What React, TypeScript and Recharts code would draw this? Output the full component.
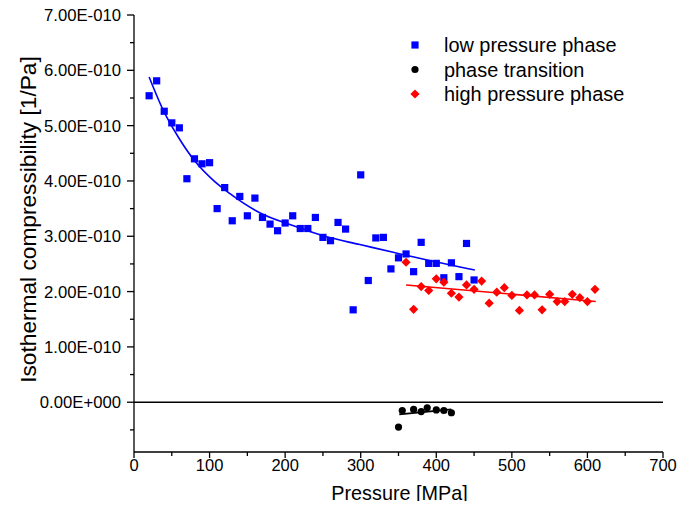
import React from "react";
import {
  ComposedChart,
  Scatter,
  Line,
  XAxis,
  YAxis,
  ReferenceLine,
  Legend,
  Label,
} from "recharts";

// Values of compressibility are in units of 1E-010 1/Pa
const lowPressureP = [20, 30, 40, 50, 60, 70, 80, 90, 100, 110, 120, 130, 140, 150, 160, 170, 180, 190, 200, 210, 220, 230, 240, 250, 260, 270, 280, 290, 300, 310, 320, 330, 340, 350, 360, 370, 380, 390, 400, 410, 420, 430, 440, 450];
const lowPressureK = [5.54, 5.81, 5.26, 5.05, 4.96, 4.04, 4.40, 4.31, 4.33, 3.50, 3.88, 3.28, 3.72, 3.37, 3.69, 3.34, 3.22, 3.10, 3.24, 3.37, 3.14, 3.14, 3.34, 2.98, 2.92, 3.25, 3.13, 1.67, 4.11, 2.20, 2.97, 2.98, 2.41, 2.61, 2.68, 2.36, 2.89, 2.51, 2.51, 2.25, 2.52, 2.27, 2.87, 2.21];

const transitionP = [350, 355, 370, 380, 388, 400, 410, 420];
const transitionK = [-0.45, -0.15, -0.13, -0.17, -0.10, -0.14, -0.15, -0.19];

const highPressureP = [360, 370, 380, 390, 400, 410, 420, 430, 440, 450, 460, 470, 480, 490, 500, 510, 520, 530, 540, 550, 560, 570, 580, 590, 600, 610];
const highPressureK = [2.53, 1.68, 2.09, 2.02, 2.23, 2.17, 1.97, 1.90, 2.12, 2.04, 2.19, 1.79, 1.99, 2.07, 1.93, 1.66, 1.94, 1.94, 1.67, 1.95, 1.82, 1.82, 1.95, 1.89, 1.82, 2.04];

// Fit curves
const lowFitP = [20, 39, 61, 81, 105, 127, 167, 211, 255, 299, 343, 388, 451];
const lowFitK = [5.88, 5.27, 4.74, 4.35, 4.01, 3.77, 3.42, 3.19, 2.99, 2.85, 2.71, 2.57, 2.39];
const highFitP = [360, 611];
const highFitK = [2.12, 1.82];
const transFitP = [351, 420];
const transFitK = [-0.22, -0.13];

const xTicks = [0, 50, 100, 150, 200, 250, 300, 350, 400, 450, 500, 550, 600, 650, 700];
const yTicks = [-0.5, 0, 0.5, 1, 1.5, 2, 2.5, 3, 3.5, 4, 4.5, 5, 5.5, 6, 6.5, 7];

const seriesNames = ["low pressure phase", "phase transition", "high pressure phase"];
const BLUE = "#0000ff";
const RED = "#ff0000";
const BLACK = "#000000";

const zip = (xs: number[], ys: number[]) => xs.map((x, i) => ({ x, y: ys[i] }));
const lowData = zip(lowPressureP, lowPressureK);
const transData = zip(transitionP, transitionK);
const highData = zip(highPressureP, highPressureK);
const lowFit = zip(lowFitP, lowFitK);
const highFit = zip(highFitP, highFitK);
const transFit = zip(transFitP, transFitK);

const FONT = "'Liberation Sans', Arial, sans-serif";

const SquareShape = (props: any) => {
  const { cx, cy } = props;
  return <rect x={cx - 3.6} y={cy - 3.6} width={7.2} height={7.2} fill={BLUE} />;
};
const CircleShape = (props: any) => {
  const { cx, cy } = props;
  return <circle cx={cx} cy={cy} r={3.6} fill={BLACK} />;
};
const DiamondShape = (props: any) => {
  const { cx, cy } = props;
  const r = 4.6;
  return <polygon points={`${cx},${cy - r} ${cx + r},${cy} ${cx},${cy + r} ${cx - r},${cy}`} fill={RED} />;
};

const fmtY = (v: number) => (v === 0 ? "0.00E+000" : `${v.toFixed(2)}E-010`);

const YTick = (props: any) => {
  const { x, y, payload } = props;
  const v = payload.value;
  const major = Math.abs(v - Math.round(v)) < 1e-6;
  return (
    <g>
      <line x1={x - (major ? 7 : 4)} x2={x} y1={y} y2={y} stroke="#000" strokeWidth={1.3} />
      {major && (
        <text x={x - 13} y={y} dy="0.36em" textAnchor="end" fontSize={16.7} fontFamily={FONT} fill="#000">
          {fmtY(v)}
        </text>
      )}
    </g>
  );
};

const XTick = (props: any) => {
  const { x, y, payload } = props;
  const v = payload.value;
  const major = v % 100 === 0;
  return (
    <g>
      <line x1={x} x2={x} y1={y} y2={y + (major ? 6 : 4)} stroke="#000" strokeWidth={1.3} />
      {major && (
        <text x={x} y={y + 19} textAnchor="middle" fontSize={16.5} fontFamily={FONT} fill="#000">
          {v}
        </text>
      )}
    </g>
  );
};

const markerFor = (i: number, cx: number, cy: number) => {
  if (i === 0) return <SquareShape cx={cx} cy={cy} />;
  if (i === 1) return <CircleShape cx={cx} cy={cy} />;
  return <DiamondShape cx={cx} cy={cy} />;
};

const renderLegend = () => (
  <svg width={260} height={80} style={{ overflow: "visible" }}>
    {seriesNames.map((name, i) => {
      const cy = 12 + i * 24.5;
      return (
        <g key={name}>
          {markerFor(i, 20, cy)}
          <text x={49} y={cy} dy="0.36em" fontSize={19.9} fontFamily={FONT} fill="#000">
            {name}
          </text>
        </g>
      );
    })}
  </svg>
);

export default function App() {
  return (
    <div style={{ height: 493 }}>
      <style>{".recharts-surface{overflow:visible}"}</style>
      <ComposedChart
        width={676}
        height={501}
        margin={{ top: 7, right: 21, bottom: 8, left: 0 }}
        style={{ fontFamily: FONT }}
      >
        <XAxis
          dataKey="x"
          type="number"
          domain={[0, 700]}
          ticks={xTicks}
          interval={0}
          tick={<XTick />}
          tickLine={false}
          tickSize={0}
          tickMargin={0}
          height={49}
          axisLine={{ stroke: "#000", strokeWidth: 1.3 }}
          allowDataOverflow
        >
          <Label
            content={(p: any) => {
              const vb = p.viewBox;
              return (
                <text x={vb.x + vb.width / 2 + 1} y={vb.y + 48} textAnchor="middle" fontSize={19.8} fontFamily={FONT} fill="#000">
                  Pressure [MPa]
                </text>
              );
            }}
          />
        </XAxis>
        <YAxis
          dataKey="y"
          type="number"
          domain={[-0.9, 7]}
          ticks={yTicks}
          interval={0}
          tick={<YTick />}
          tickLine={false}
          tickSize={0}
          tickMargin={0}
          width={126}
          axisLine={{ stroke: "#000", strokeWidth: 1.3 }}
          allowDataOverflow
        >
          <Label
            content={(p: any) => {
              const vb = p.viewBox;
              const cx = vb.x + 20;
              const cy = vb.y + vb.height / 2 - 14;
              return (
                <text
                  x={cx}
                  y={cy}
                  transform={`rotate(-90 ${cx} ${cy})`}
                  textAnchor="middle"
                  dy="0.36em"
                  fontSize={22.7}
                  fontFamily={FONT}
                  fill="#000"
                >
                  Isothermal compressibility [1/Pa]
                </text>
              );
            }}
          />
        </YAxis>
        <ReferenceLine y={0} stroke="#000" strokeWidth={1.5} />
        <Line data={lowFit} dataKey="y" type="monotone" stroke={BLUE} strokeWidth={1.6} dot={false} legendType="none" isAnimationActive={false} />
        <Line data={highFit} dataKey="y" type="linear" stroke={RED} strokeWidth={1.6} dot={false} legendType="none" isAnimationActive={false} />
        <Line data={transFit} dataKey="y" type="linear" stroke={BLACK} strokeWidth={1.6} dot={false} legendType="none" isAnimationActive={false} />
        <Scatter name={seriesNames[0]} data={lowData} dataKey="y" shape={SquareShape} isAnimationActive={false} />
        <Scatter name={seriesNames[1]} data={transData} dataKey="y" shape={CircleShape} isAnimationActive={false} />
        <Scatter name={seriesNames[2]} data={highData} dataKey="y" shape={DiamondShape} isAnimationActive={false} />
        <Legend
          layout="vertical"
          align="center"
          verticalAlign="middle"
          content={renderLegend}
          wrapperStyle={{ top: 25, left: 387, width: 260, height: 80 }}
        />
      </ComposedChart>
    </div>
  );
}
